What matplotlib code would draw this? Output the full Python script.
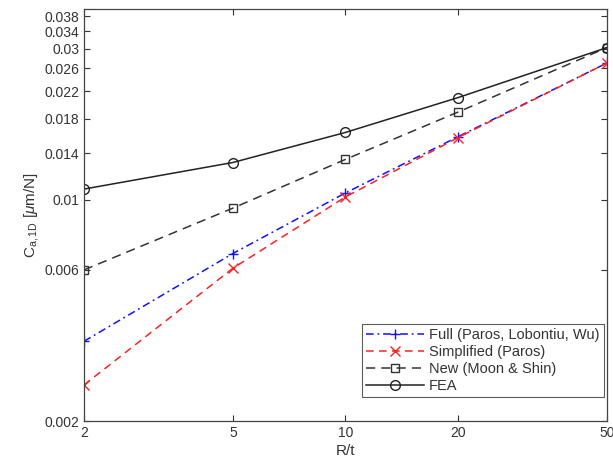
import numpy as np
import matplotlib.pyplot as plt

plt.rcParams['font.family'] = ['Liberation Sans', 'DejaVu Sans']
plt.rcParams['mathtext.fontset'] = 'custom'
plt.rcParams['mathtext.rm'] = 'Liberation Sans'
plt.rcParams['mathtext.it'] = 'Liberation Sans:italic'

# R/t ratios and compliance values [um/N]
r_t = [2, 5, 10, 20, 50]
full = [0.00357, 0.00676, 0.0105, 0.0158, 0.0270]
simplified = [0.0026, 0.00607, 0.0102, 0.0157, 0.0270]
new = [0.0060, 0.0094, 0.0134, 0.0189, 0.0302]
fea = [0.0108, 0.0131, 0.0163, 0.0210, 0.0302]

x_ticks = [2, 5, 10, 20, 50]
y_ticks = [0.002, 0.006, 0.01, 0.014, 0.018, 0.022, 0.026, 0.03, 0.034, 0.038]

fig = plt.figure(figsize=(6.13, 4.72), dpi=100)
ax = fig.add_axes([0.137, 0.108, 0.853, 0.873])

ax.plot(r_t, full, color='#1010ff', marker='+', ms=7, mew=1.0, lw=1.1,
        dashes=(5, 2.5, 1.2, 2.5), label='Full (Paros, Lobontiu, Wu)')
ax.plot(r_t, simplified, color='#ff2020', marker='x', ms=7, mew=1.0, lw=1.1,
        dashes=(5, 3.5), label='Simplified (Paros)')
ax.plot(r_t, new, color='#333333', marker='s', ms=5.5, mfc='none', mew=1.0, lw=1.1,
        dashes=(6, 4), label='New (Moon & Shin)')
ax.plot(r_t, fea, '-', color='#222222', marker='o', ms=7, mfc='none', mew=1.0, lw=1.1,
        label='FEA')

ax.set_xscale('log')
ax.set_yscale('log')
ax.set_xlim(2, 50)
ax.set_ylim(0.002, 0.04)
ax.set_xticks(x_ticks)
ax.set_xticklabels([str(v) for v in x_ticks])
ax.set_yticks(y_ticks)
ax.set_yticklabels([f'{v:g}' for v in y_ticks])
ax.minorticks_off()

ax.tick_params(direction='in', top=True, right=True, length=4, width=0.8,
               colors='#333333', labelsize=10, labelcolor='#333333')
for s in ax.spines.values():
    s.set_color('#444444')
    s.set_linewidth(0.9)

ax.set_xlabel('R/t', fontsize=11, color='#333333', labelpad=3)
ax.set_ylabel(r'C$_{\mathrm{a,1D}}$ [$\mu$m/N]', fontsize=11, color='#333333', labelpad=2)

# legend box sits a little above the bottom axis, flush with the right edge
leg = ax.legend(loc='lower right', bbox_to_anchor=(0.994, 0.058), fontsize=10.5,
                frameon=True, fancybox=False, edgecolor='#333333',
                borderpad=0.3, labelspacing=0.2, handlelength=4.0,
                handletextpad=0.3, borderaxespad=0.0)
leg.get_frame().set_linewidth(0.8)
for t in leg.get_texts():
    t.set_color('#333333')

fig.savefig('out.png', dpi=100)
